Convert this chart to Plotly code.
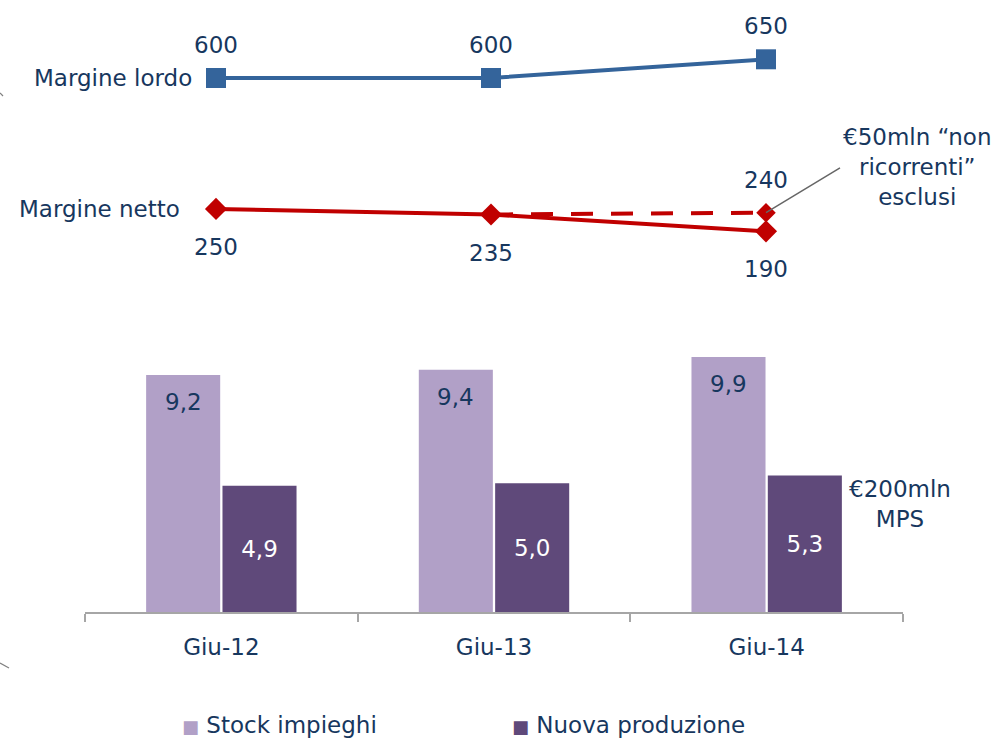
import plotly.graph_objects as go

# ---- data ----
periods = ["Giu-12", "Giu-13", "Giu-14"]
margine_lordo = [600, 600, 650]
margine_netto = [250, 235, 190]
netto_adj_periods = ["Giu-13", "Giu-14"]
netto_adj = [235, 240]
stock_impieghi = [9.2, 9.4, 9.9]
nuova_produzione = [4.9, 5.0, 5.3]
series_names = ["Stock impieghi", "Nuova produzione"]

def fmt(v):
    return f"{v:.1f}".replace(".", ",")

NAVY = "#17375E"
BLUE = "#34649B"
RED = "#C00000"
LIGHT = "#B1A0C7"
DARK = "#5F497A"
GRAY = "#A6A6A6"
FONT = "DejaVu Sans"
FS = 23

W, H = 996, 738
def px_x(p):
    return p / W
def px_y(p):
    return (H - p) / H

BARGAP = 0.44
X_LEFT, X_RIGHT = 85, 903
cat_px = (X_RIGHT - X_LEFT) / len(periods)
bar_offset = cat_px * (1 - BARGAP) / 4

fig = go.Figure()

# bars
fig.add_trace(go.Bar(
    x=periods, y=stock_impieghi, name=series_names[0],
    marker=dict(color=LIGHT, line=dict(width=0)),
    xaxis="x", yaxis="y", showlegend=False,
))
fig.add_trace(go.Bar(
    x=periods, y=nuova_produzione, name=series_names[1],
    marker=dict(color=DARK, line=dict(width=0)),
    text=[fmt(v) for v in nuova_produzione], textposition="inside",
    insidetextanchor="middle", textangle=0,
    textfont=dict(color="white", size=FS, family=FONT),
    xaxis="x", yaxis="y", showlegend=False,
))

# lines
fig.add_trace(go.Scatter(
    x=netto_adj_periods, y=netto_adj, mode="lines",
    line=dict(color=RED, width=4, dash="22px,18px"),
    showlegend=False, xaxis="x2", yaxis="y2", cliponaxis=False,
))
fig.add_trace(go.Scatter(
    x=netto_adj_periods[1:], y=netto_adj[1:], mode="markers",
    marker=dict(symbol="diamond", size=15, color=RED, opacity=1, line=dict(width=0)),
    showlegend=False, xaxis="x2", yaxis="y2", cliponaxis=False,
))
fig.add_trace(go.Scatter(
    x=periods, y=margine_lordo, mode="lines+markers",
    line=dict(color=BLUE, width=4),
    marker=dict(symbol="square", size=20, color=BLUE, line=dict(width=0)),
    showlegend=False, xaxis="x2", yaxis="y2", cliponaxis=False,
))
fig.add_trace(go.Scatter(
    x=periods, y=margine_netto, mode="lines+markers",
    line=dict(color=RED, width=4),
    marker=dict(symbol="diamond", size=17, color=RED, line=dict(width=0)),
    showlegend=False, xaxis="x2", yaxis="y2", cliponaxis=False,
))

# scales
k_bar = 25.76          # px per unit (bars)
bar_bottom, bar_top = 612, 340
k_line = 0.374         # px per unit (lines)
line_top, line_bottom = 25, 300
ref_v, ref_px = 600, 78

fig.update_layout(
    width=W, height=H, margin=dict(l=0, r=0, t=0, b=0, pad=0),
    paper_bgcolor="white", plot_bgcolor="rgba(0,0,0,0)",
    font=dict(family=FONT, size=FS, color=NAVY),
    barmode="group", bargap=BARGAP, bargroupgap=0.03,
    showlegend=False,
    xaxis=dict(
        domain=[px_x(X_LEFT), px_x(X_RIGHT)], range=[-0.5, 2.5], type="category",
        categoryorder="array", categoryarray=periods, automargin=False,
        anchor="y", showline=True, linecolor=GRAY, linewidth=2,
        ticks="outside", tickson="boundaries", ticklen=8, tickcolor=GRAY, tickwidth=2,
        showgrid=False, zeroline=False,
        tickfont=dict(color=NAVY, size=FS, family=FONT), ticklabelstandoff=13,
    ),
    yaxis=dict(
        domain=[px_y(bar_bottom), px_y(bar_top)],
        range=[0, (bar_bottom - bar_top) / k_bar], visible=False,
    ),
    xaxis2=dict(
        domain=[px_x(78.5), px_x(903.5)], range=[-0.5, 2.5], type="category",
        categoryorder="array", categoryarray=periods,
        anchor="y2", visible=False,
    ),
    yaxis2=dict(
        domain=[px_y(line_bottom), px_y(line_top)],
        range=[ref_v - (line_bottom - ref_px) / k_line, ref_v + (ref_px - line_top) / k_line],
        visible=False,
    ),
)

lab_font = dict(color=NAVY, size=FS, family=FONT)
annotations = [
    dict(x=periods[0], y=margine_lordo[0], xref="x2", yref="y2", text="Margine lordo",
         showarrow=False, xanchor="right", yanchor="middle", xshift=-22, font=lab_font),
    dict(x=periods[0], y=margine_netto[0], xref="x2", yref="y2", text="Margine netto",
         showarrow=False, xanchor="right", yanchor="middle", xshift=-34, font=lab_font),
    dict(x=netto_adj_periods[1], y=netto_adj[1], xref="x2", yref="y2", text=" ",
         showarrow=True, arrowhead=0, arrowwidth=1.5, arrowcolor="#666666",
         ax=76, ay=-46, standoff=0, font=dict(size=2)),
    dict(x=px_x(917), y=px_y(167), xref="paper", yref="paper",
         text="€50mln “non<br>ricorrenti”<br>esclusi", showarrow=False,
         xanchor="center", yanchor="middle", align="center", font=lab_font),
    dict(x=px_x(900), y=px_y(504), xref="paper", yref="paper",
         text="€200mln<br>MPS", showarrow=False,
         xanchor="center", yanchor="middle", align="center", font=lab_font),
]
# legend (drawn as annotations so it can sit at the cropped bottom edge)
for name, col, lx in zip(series_names, [LIGHT, DARK], [180, 510]):
    annotations.append(dict(
        x=px_x(lx), y=px_y(725), xref="paper", yref="paper", showarrow=False,
        xanchor="left", yanchor="middle",
        text=f"<span style='color:{col};font-size:18px'>■</span> {name}",
        font=lab_font))
# data labels for lines
for p, v in zip(periods, margine_lordo):
    annotations.append(dict(x=p, y=v, xref="x2", yref="y2", text=str(v), showarrow=False,
                            yshift=33, font=lab_font))
for p, v in zip(periods, margine_netto):
    annotations.append(dict(x=p, y=v, xref="x2", yref="y2", text=str(v), showarrow=False,
                            yshift=-38, font=lab_font))
annotations.append(dict(x=netto_adj_periods[1], y=netto_adj[1], xref="x2", yref="y2",
                        text=str(netto_adj[1]), showarrow=False, yshift=33, font=lab_font))
# data labels inside top of stock bars
for p, v in zip(periods, stock_impieghi):
    annotations.append(dict(x=p, y=v, xref="x", yref="y", text=fmt(v), showarrow=False,
                            xshift=-bar_offset, yshift=-27, font=lab_font))
fig.update_layout(annotations=annotations)

fig.add_shape(type="line", xref="paper", yref="paper",
              x0=px_x(0), y0=px_y(663), x1=px_x(9), y1=px_y(668),
              line=dict(color="#808080", width=1.2))
fig.add_shape(type="line", xref="paper", yref="paper",
              x0=px_x(0), y0=px_y(93), x1=px_x(3), y1=px_y(96),
              line=dict(color="#808080", width=1.2))

fig.write_html("out.html")
